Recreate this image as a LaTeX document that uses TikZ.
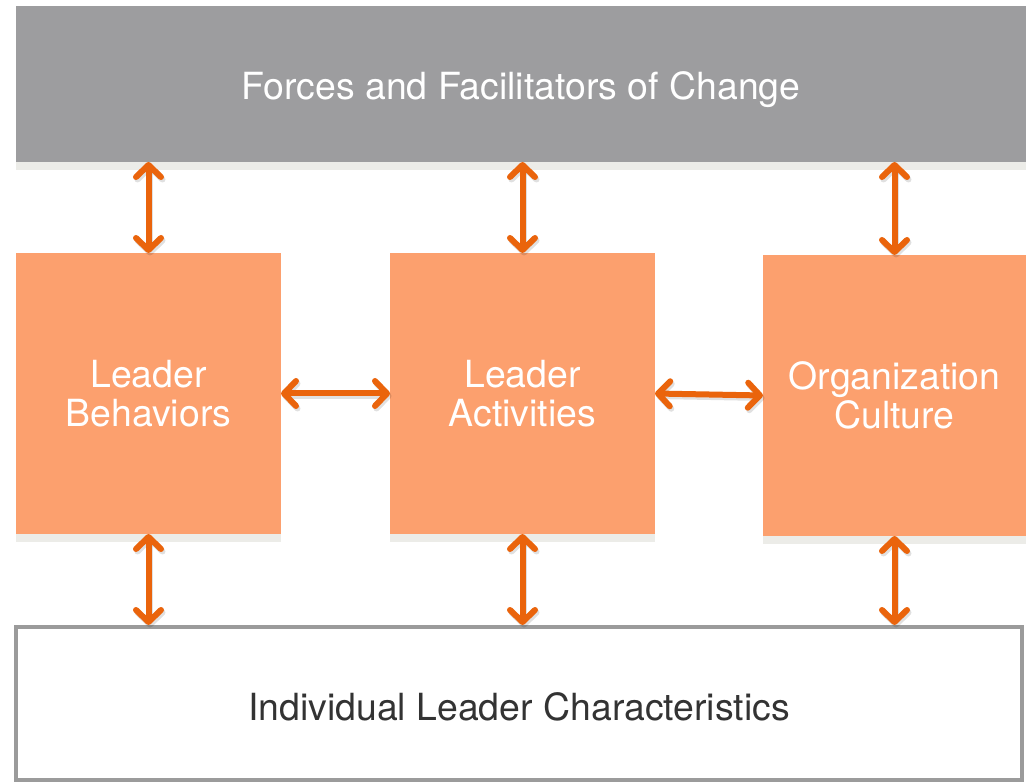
\documentclass[tikz,border=0pt]{standalone}
\usepackage{fontspec}
\setmainfont{TeX Gyre Heros}
\usetikzlibrary{arrows.meta}
\definecolor{topgray}{HTML}{9D9D9F}
\definecolor{boxorange}{HTML}{FCA06E}
\definecolor{arrc}{HTML}{EA640C}
\definecolor{stripc}{HTML}{ECECE8}
\definecolor{bordergray}{HTML}{9B9B9B}
\definecolor{textdark}{HTML}{333333}
\tikzset{
  base/.style={inner sep=0pt, outer sep=0pt, anchor=north west, align=center,
    font=\fontsize{37.4}{39}\selectfont},
  topbox/.style={base, fill=topgray, text=white, text height=31pt, text depth=0pt},
  orbox/.style={base, fill=boxorange, text=white},
  botbox/.style={base, fill=white, draw=bordergray, line width=4pt, text=textdark, text height=33pt, text depth=0pt},
  strip/.style={fill=stripc},
  arr/.style={draw=arrc, line width=6pt,
    {Straight Barb[length=12pt,width=25pt,round]}-{Straight Barb[length=12pt,width=25pt,round]}},
  arrshadow/.style={arr, draw=black, draw opacity=0.12},
}
\begin{document}
\begin{tikzpicture}[x=1pt,y=-1pt]
\useasboundingbox (0,0) rectangle (1026,783);
\fill[white] (0,0) rectangle (1026,783);

\node[topbox, minimum width=1010pt, minimum height=156pt] (top) at (16,6) {Forces and Facilitators of Change};
\fill[strip] (top.south west) rectangle ++(1010,8);

\node[orbox, minimum width=265pt, minimum height=281pt] (lb) at (16,253) {Leader\\Behaviors};
\node[orbox, minimum width=265pt, minimum height=281pt] (mb) at (390,253) {Leader\\Activities};
\node[orbox, minimum width=263pt, minimum height=281pt] (rb) at (763,255) {Organization\\Culture};
\fill[strip] (lb.south west) rectangle ++(265,8);
\fill[strip] (mb.south west) rectangle ++(265,8);
\fill[strip] (rb.south west) rectangle ++(263,8);

\node[botbox, minimum width=1006pt, minimum height=153pt] (bot) at (16,627) {Individual Leader Characteristics};

\coordinate (t1) at (lb.north |- top.south);
\coordinate (t2) at (mb.north |- top.south);
\coordinate (t3) at (rb.north |- top.south);
\coordinate (b1) at ([yshift=2pt]lb.south |- bot.north);
\coordinate (b2) at ([yshift=2pt]mb.south |- bot.north);
\coordinate (b3) at ([yshift=2pt]rb.south |- bot.north);

\foreach \a/\b in {lb.north/t1, mb.north/t2, rb.north/t3, lb.south/b1, mb.south/b2, rb.south/b3, lb.east/mb.west, mb.east/rb.west}{
  \draw[arrshadow] ([shift={(1.5,2.5)}]\a) -- ([shift={(1.5,2.5)}]\b);
}
\foreach \a/\b in {lb.north/t1, mb.north/t2, rb.north/t3, lb.south/b1, mb.south/b2, rb.south/b3, lb.east/mb.west, mb.east/rb.west}{
  \draw[arr] (\a) -- (\b);
}
\end{tikzpicture}
\end{document}
